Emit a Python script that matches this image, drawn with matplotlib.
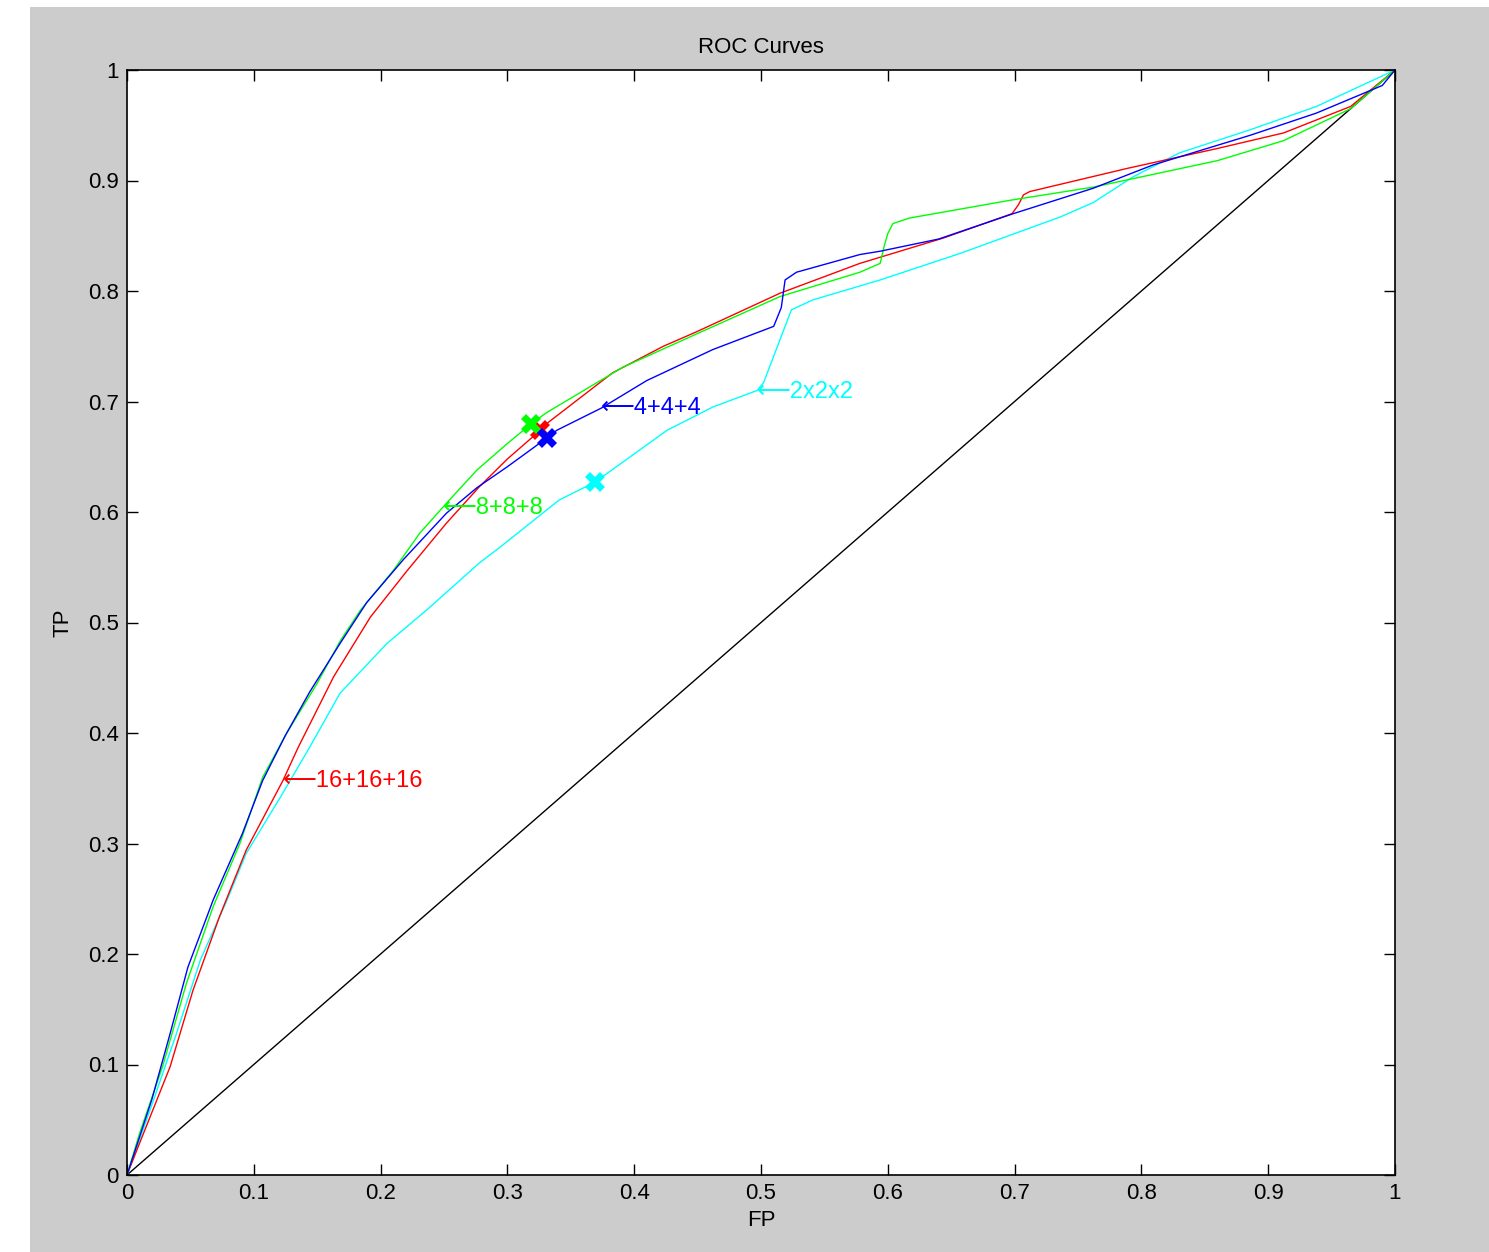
import matplotlib
matplotlib.use('Agg')
import matplotlib.pyplot as plt
from matplotlib.patches import Rectangle

plt.rcParams['font.family'] = ['Liberation Sans', 'DejaVu Sans']

# ROC curve 4+4+4 (blue)
fp_4 = [0, 0.0195, 0.034, 0.048, 0.068, 0.091, 0.107, 0.125, 0.144, 0.168, 0.189, 0.218,
        0.252, 0.276, 0.300, 0.318, 0.331, 0.339, 0.374, 0.410, 0.462, 0.510, 0.516, 0.519,
        0.528, 0.578, 0.594, 0.640, 0.699, 0.762, 0.809, 0.886, 0.938, 0.990, 1]
tp_4 = [0, 0.068, 0.128, 0.188, 0.249, 0.309, 0.357, 0.398, 0.437, 0.481, 0.518, 0.557,
        0.599, 0.622, 0.641, 0.656, 0.667, 0.674, 0.694, 0.719, 0.747, 0.768, 0.785, 0.810,
        0.817, 0.833, 0.836, 0.847, 0.870, 0.893, 0.914, 0.941, 0.961, 0.986, 1]

# ROC curve 16+16+16 (red)
fp_16 = [0, 0.010, 0.034, 0.052, 0.073, 0.094, 0.123, 0.135, 0.163, 0.192, 0.221, 0.252,
         0.278, 0.300, 0.320, 0.331, 0.383, 0.423, 0.449, 0.515, 0.578, 0.644, 0.698, 0.703,
         0.707, 0.712, 0.789, 0.860, 0.912, 0.965, 1]
tp_16 = [0, 0.029, 0.098, 0.167, 0.234, 0.294, 0.357, 0.387, 0.451, 0.505, 0.547, 0.590,
         0.623, 0.648, 0.668, 0.680, 0.726, 0.750, 0.763, 0.798, 0.825, 0.848, 0.870, 0.878,
         0.887, 0.890, 0.911, 0.929, 0.943, 0.967, 1]

# ROC curve 8+8+8 (green)
fp_8 = [0, 0.010, 0.028, 0.047, 0.068, 0.089, 0.107, 0.126, 0.150, 0.168, 0.184, 0.210,
        0.231, 0.252, 0.276, 0.300, 0.319, 0.331, 0.391, 0.447, 0.515, 0.578, 0.594, 0.597,
        0.600, 0.604, 0.617, 0.696, 0.762, 0.807, 0.860, 0.912, 0.965, 1]
tp_8 = [0, 0.038, 0.098, 0.174, 0.243, 0.300, 0.360, 0.400, 0.445, 0.483, 0.511, 0.547,
        0.581, 0.608, 0.638, 0.662, 0.680, 0.690, 0.731, 0.760, 0.795, 0.817, 0.825, 0.840,
        0.852, 0.861, 0.866, 0.882, 0.894, 0.905, 0.918, 0.936, 0.965, 1]

# ROC curve 2x2x2 (cyan)
fp_2 = [0, 0.021, 0.039, 0.058, 0.079, 0.094, 0.121, 0.144, 0.168, 0.205, 0.236, 0.278,
        0.294, 0.341, 0.369, 0.426, 0.462, 0.497, 0.502, 0.515, 0.524, 0.541, 0.594, 0.657,
        0.736, 0.762, 0.793, 0.830, 0.886, 0.938, 1]
tp_2 = [0, 0.068, 0.128, 0.195, 0.249, 0.291, 0.342, 0.387, 0.436, 0.481, 0.511, 0.554,
        0.568, 0.611, 0.627, 0.674, 0.695, 0.710, 0.717, 0.756, 0.783, 0.792, 0.810, 0.834,
        0.867, 0.880, 0.903, 0.925, 0.946, 0.967, 1]

# operating points (x markers)
point_16 = (0.326, 0.674)
point_8 = (0.319, 0.680)
point_4 = (0.331, 0.667)
point_2 = (0.369, 0.627)

# label anchor points (arrow tips)
label_16 = (0.123, 0.357)
label_8 = (0.249, 0.604)
label_4 = (0.374, 0.694)
label_2 = (0.497, 0.709)

ticks = [0, 0.1, 0.2, 0.3, 0.4, 0.5, 0.6, 0.7, 0.8, 0.9, 1]
tick_labels = ['0', '0.1', '0.2', '0.3', '0.4', '0.5', '0.6', '0.7', '0.8', '0.9', '1']

fig = plt.figure(figsize=(14.89, 12.52), dpi=100, facecolor='white')
# grey MATLAB-like figure background (white strip on left/top)
fig.patches.append(Rectangle((30 / 1489, 0), 1 - 30 / 1489, 1245 / 1252,
                             transform=fig.transFigure, facecolor='#cccccc',
                             edgecolor='none', zorder=-10))

ax = fig.add_axes([127 / 1489, 77 / 1252, 1268 / 1489, 1105 / 1252])
ax.set_zorder(1)
ax.set_facecolor('white')

lw = 1.0
ax.plot([0, 1], [0, 1], color='black', lw=lw)
ax.plot(fp_2, tp_2, color='#00ffff', lw=lw)
ax.plot(fp_16, tp_16, color='#ff0000', lw=lw)
ax.plot(fp_8, tp_8, color='#00ff00', lw=lw)
ax.plot(fp_4, tp_4, color='#0000ff', lw=lw)

ms = 14
ax.plot(*point_2, marker='X', color='#00ffff', markersize=ms, markeredgewidth=0)
ax.plot(*point_16, marker='X', color='#ff0000', markersize=ms, markeredgewidth=0)
ax.plot(*point_8, marker='X', color='#00ff00', markersize=ms, markeredgewidth=0)
ax.plot(*point_4, marker='X', color='#0000ff', markersize=ms, markeredgewidth=0)

fs = 16
lab_fs = 17
ax.text(label_16[0], label_16[1], '⟵16+16+16', color='#ff0000', fontsize=lab_fs,
        ha='left', va='center')
ax.text(label_8[0], label_8[1], '⟵8+8+8', color='#00ff00', fontsize=lab_fs,
        ha='left', va='center')
ax.text(label_4[0], label_4[1], '⟵4+4+4', color='#0000ff', fontsize=lab_fs,
        ha='left', va='center')
ax.text(label_2[0], label_2[1], '⟵2x2x2', color='#00ffff', fontsize=lab_fs,
        ha='left', va='center')

ax.set_xlim(0, 1)
ax.set_ylim(0, 1)
ax.set_xticks(ticks)
ax.set_xticklabels(tick_labels)
ax.set_yticks(ticks)
ax.set_yticklabels(tick_labels)
ax.tick_params(direction='in', length=8, width=1, top=True, right=True,
               labelsize=fs, pad=6)
for sp in ax.spines.values():
    sp.set_linewidth(1.2)

ax.set_title('ROC Curves', fontsize=fs, pad=12)
ax.set_xlabel('FP', fontsize=fs, labelpad=4)
ax.set_ylabel('TP', fontsize=fs, labelpad=10)

plt.savefig('out.png', dpi=100, facecolor=fig.get_facecolor())
